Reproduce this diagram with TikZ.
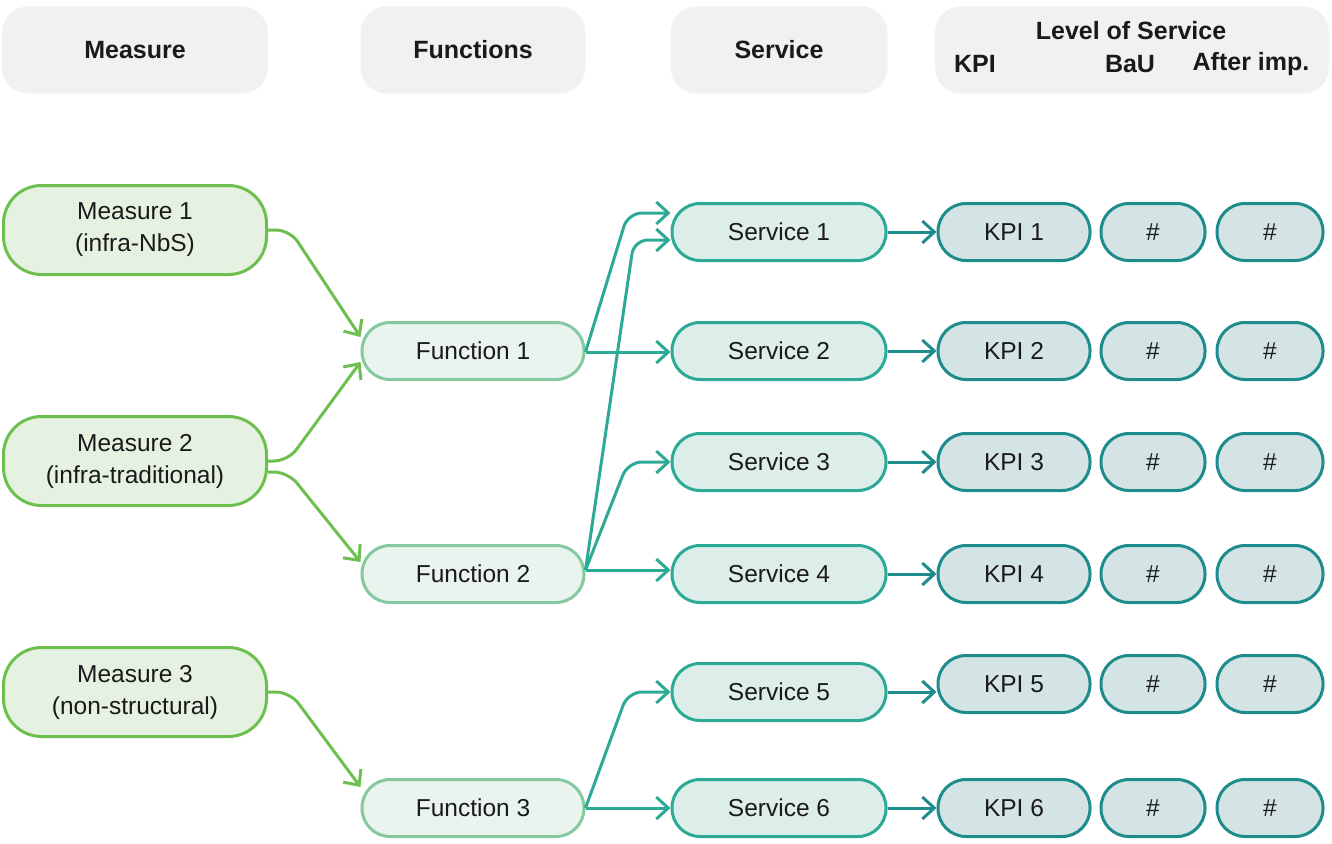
\documentclass[tikz,border=0pt]{standalone}
\usepackage{fontspec}
\setmainfont{Liberation Sans}
\usetikzlibrary{arrows.meta}

\definecolor{hdrfill}{HTML}{F0F1F1}
\definecolor{measfill}{HTML}{E6F2E1}
\definecolor{measline}{HTML}{6DC04F}
\definecolor{funcfill}{HTML}{E9F4EF}
\definecolor{funcline}{HTML}{86C9A0}
\definecolor{servfill}{HTML}{DDEEEA}
\definecolor{servline}{HTML}{2DAA95}
\definecolor{kpifill}{HTML}{D4E4E4}
\definecolor{kpiline}{HTML}{1E8C8C}
\definecolor{txt}{HTML}{1A1A1A}

\tikzset{
  base/.style={rectangle, align=center, inner sep=0pt, text=txt,
    font=\fontsize{24.5}{32}\selectfont, line width=3pt},
  header/.style={base, fill=hdrfill, rounded corners=26pt, minimum height=87pt,
    font=\fontsize{25}{32}\selectfont\bfseries},
  hlabel/.style={text=txt, inner sep=0pt, font=\fontsize{25}{30}\selectfont\bfseries},
  measbox/.style={base, draw=measline, fill=measfill, rounded corners=38pt,
    minimum width=263pt, minimum height=89pt},
  funcbox/.style={base, draw=funcline, fill=funcfill, rounded corners=28pt,
    minimum width=222pt, minimum height=57pt},
  servbox/.style={base, draw=servline, fill=servfill, rounded corners=28pt,
    minimum width=214pt, minimum height=57pt},
  kpibox/.style={base, draw=kpiline, fill=kpifill, rounded corners=28pt,
    minimum height=57pt},
  tip/.style={-{Straight Barb[length=12pt,width=22pt]}, line width=3pt,
    rounded corners=14pt},
  garrow/.style={tip, draw=measline},
  tarrow/.style={tip, draw=servline},
  karrow/.style={tip, draw=kpiline},
}

\begin{document}
\begin{tikzpicture}[x=1pt, y=-1pt]
\useasboundingbox (0,0) rectangle (1332,843);

% column headers
\node[header, minimum width=266pt] (hM) at (135,50) {Measure};
\node[header, minimum width=225pt] (hF) at (473,50) {Functions};
\node[header, minimum width=217pt] (hS) at (779,50) {Service};
\node[header, minimum width=394pt] (hL) at (1132,50) {};
\node[hlabel] (tL) at (1131,31) {Level of Service};
\node[hlabel] (tK) at (975,64) {KPI};
\node[hlabel] (tB) at (1130,64) {BaU};
\node[hlabel] (tA) at (1251,64) {After imp.};

% measures
\node[measbox] (m1) at (135,230) {Measure 1\\(infra-NbS)};
\node[measbox] (m2) at (135,461) {Measure 2\\(infra-traditional)};
\node[measbox] (m3) at (135,692) {Measure 3\\(non-structural)};

% functions
\node[funcbox] (f1) at (473,351) {Function 1};
\node[funcbox] (f2) at (473,574) {Function 2};
\node[funcbox] (f3) at (473,808) {Function 3};

% services
\node[servbox] (s1) at (779,232) {Service 1};
\node[servbox] (s2) at (779,351) {Service 2};
\node[servbox] (s3) at (779,462) {Service 3};
\node[servbox] (s4) at (779,574) {Service 4};
\node[servbox] (s5) at (779,692) {Service 5};
\node[servbox] (s6) at (779,808) {Service 6};

% KPIs with business-as-usual and after-improvement values
\foreach \i/\y in {1/232, 2/351, 3/462, 4/574, 5/684, 6/808} {
  \node[kpibox, minimum width=152pt] (k\i) at (1014,\y) {KPI \i};
  \node[kpibox, minimum width=104pt] (b\i) at (1153,\y) {\#};
  \node[kpibox, minimum width=106pt] (a\i) at (1270,\y) {\#};
}

% measures -> functions
\draw[garrow] (m1.east |- 0,230) -- (290,230) -- (f1.west |- 0,337);
\draw[garrow] (m2.east |- 0,461) -- (288,461) -- (f1.west |- 0,362);
\draw[garrow] (m2.east |- 0,472) -- (288,472) -- (f2.west |- 0,562);
\draw[garrow] (m3.east |- 0,692) -- (290,692) -- (f3.west |- 0,787);

% functions -> services
\draw[tarrow] (f1.east |- 0,352) -- (628,213) -- (s1.west |- 0,213);
\draw[tarrow] (f1.east |- 0,352) -- (s2.west |- 0,352);
\draw[tarrow] (f2.east |- 0,570) -- (634,240) -- (s1.west |- 0,240);
\draw[tarrow] (f2.east |- 0,570) -- (628,462) -- (s3.west |- 0,462);
\draw[tarrow] (f2.east |- 0,570) -- (s4.west |- 0,570);
\draw[tarrow] (f3.east |- 0,808) -- (628,692) -- (s5.west |- 0,692);
\draw[tarrow] (f3.east |- 0,808) -- (s6.west |- 0,808);

% services -> KPIs
\draw[karrow] (s1.east) -- (k1.west);
\draw[karrow] (s2.east) -- (k2.west);
\draw[karrow] (s3.east) -- (k3.west);
\draw[karrow] (s4.east) -- (k4.west);
\draw[karrow] (s5.east) -- (k5.west |- s5.east);
\draw[karrow] (s6.east) -- (k6.west);
\end{tikzpicture}
\end{document}
